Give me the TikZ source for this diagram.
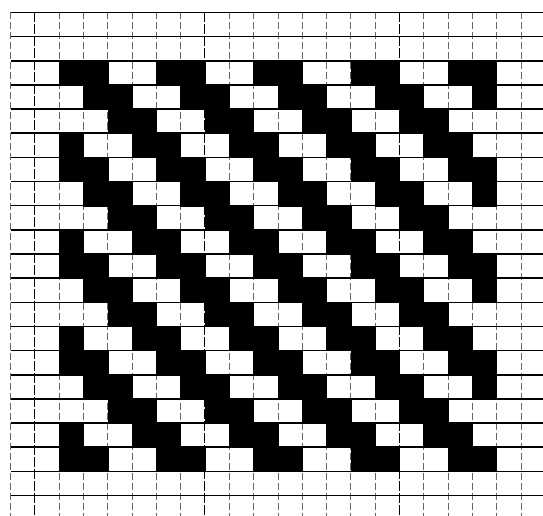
\documentclass[tikz,border=0pt]{standalone}
\begin{document}
\begin{tikzpicture}[x=1pt,y=-1pt,
  hline/.style={line width=1.5pt,black},
  htop/.style={line width=1.1pt,black},
  vline/.style={line width=0.6pt,black!60,dash pattern=on 7pt off 3pt},
  vheavy/.style={line width=1.1pt,black,dash pattern=on 10pt off 2pt},
  cellfill/.style={fill=black,draw=black,line width=0.3pt}]
\useasboundingbox (0,0) rectangle (543,516);
\fill[white] (0,0) rectangle (543,516);
\def\cw{24.3}\def\ch{24.15}\def\xo{10.5}\def\yo{12.5}
% vertical grid lines
\foreach \c in {0,2,3,4,5,6,7,9,10,11,12,13,14,15,17,18,19,20,21}{
  \draw[vline] (\xo+\c*\cw,\yo) -- (\xo+\c*\cw,516);
}
\foreach \c in {1,8,16}{
  \draw[vheavy] (\xo+\c*\cw,\yo) -- (\xo+\c*\cw,516);
}
% horizontal grid lines
\draw[htop] (\xo,\yo) -- (543,\yo);
\foreach \r in {1,...,20}{
  \draw[hline] (\xo,\yo+\r*\ch) -- (543,\yo+\r*\ch);
}
% twill cells
\foreach \c in {2,...,19}{
  \foreach \r in {2,...,18}{
    \pgfmathtruncatemacro{\m}{mod(\c-\r+40,4)}
    \ifnum\m<2
      \path[cellfill] (\xo+\c*\cw,\yo+\r*\ch) rectangle ++(\cw,\ch);
    \fi
  }
}
\end{tikzpicture}
\end{document}
